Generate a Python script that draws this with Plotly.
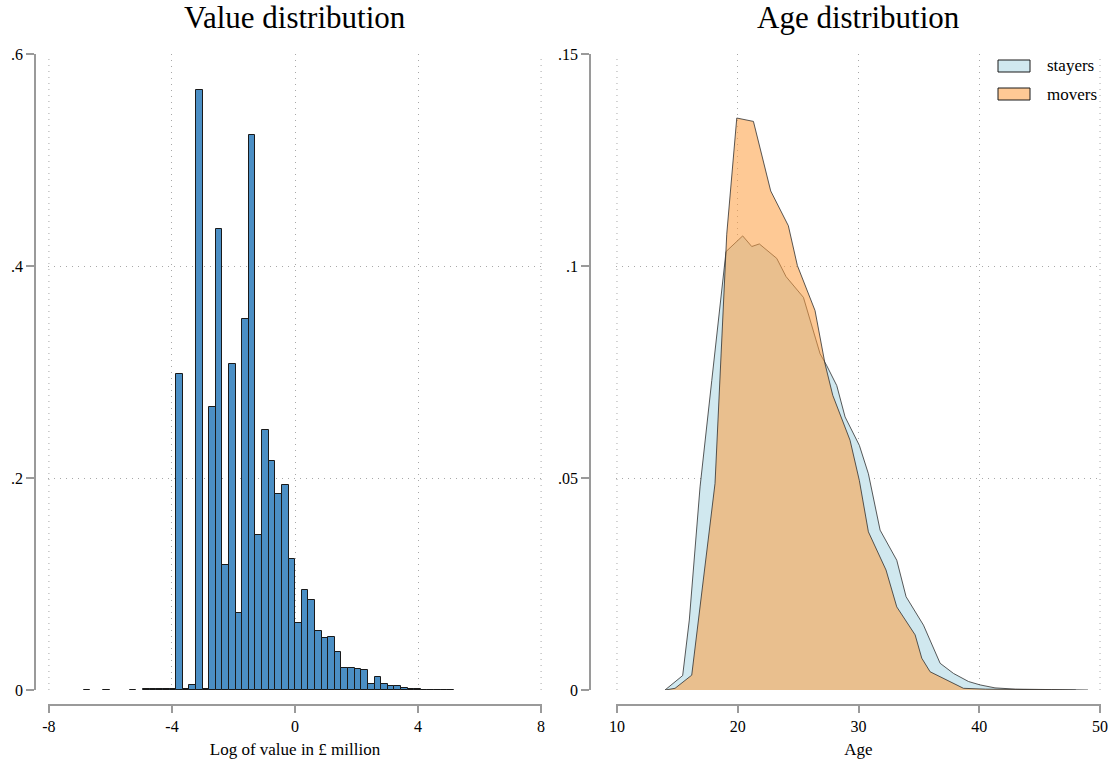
import plotly.graph_objects as go

# ---------------- data ----------------
# Left: histogram of log value (density), bins of equal width
bin_start = -7.09
bin_width = 0.215
value_density = [
    0, 0.0003, 0, 0, 0.0003, 0, 0, 0, 0.0003, 0,
    0.0005, 0.0008, 0.0005, 0.001, 0.001,
    0.298, 0.0006, 0.005, 0.566, 0.0008, 0.267, 0.435, 0.118, 0.308, 0.073,
    0.350, 0.524, 0.1465, 0.245, 0.216, 0.185, 0.193, 0.124, 0.063, 0.094,
    0.085, 0.0556, 0.049, 0.0496, 0.0355, 0.0204, 0.021, 0.0195, 0.0188, 0.0053,
    0.0122, 0.0057, 0.0041, 0.0035, 0.0016, 0.0009, 0.0006, 0.0003, 0.0002, 0.0002,
    0.0001, 0.0001,
]
bin_centers = [bin_start + bin_width * (i + 0.5) for i in range(len(value_density))]

# Right: age density curves
stayers_age = [13.98, 15.44, 15.99, 16.88, 17.85, 19.03, 20.41, 21.16, 21.79, 23.23,
               24.0, 25.44, 26.82, 27.37, 28.2, 28.89, 30.07, 30.82, 31.79, 33.17,
               33.94, 35.38, 36.76, 37.87, 39.11, 40.07, 41.3, 43.0, 46.0, 49.0]
stayers_dens = [0, 0.0034, 0.0165, 0.0479, 0.0730, 0.1034, 0.1071, 0.1046, 0.1052, 0.1018,
                0.0975, 0.0926, 0.0793, 0.0765, 0.0718, 0.0644, 0.0577, 0.0510, 0.0377, 0.0306,
                0.0220, 0.0153, 0.0063, 0.0039, 0.0020, 0.0012, 0.0005, 0.0002, 0.0001, 0]

movers_age = [14.0, 14.81, 16.19, 16.82, 18.12, 19.09, 19.92, 21.30, 22.73, 24.19,
              24.94, 26.40, 27.23, 27.87, 29.30, 30.07, 30.82, 32.28, 33.17, 34.69,
              35.24, 35.93, 37.31, 38.69, 40.5, 44.0, 48.0]
movers_dens = [0, 0.0004, 0.0035, 0.018, 0.0487, 0.1075, 0.1349, 0.1341, 0.1177, 0.1095,
               0.1001, 0.0895, 0.0769, 0.0695, 0.0589, 0.0494, 0.0373, 0.0283, 0.0196, 0.0130,
               0.0075, 0.0043, 0.0024, 0.0004, 0.0002, 0.0001, 0]

left_xticks = [-8, -4, 0, 4, 8]
left_yticks = [0, 0.2, 0.4, 0.6]
left_ytext = ["0", ".2", ".4", ".6"]
right_xticks = [10, 20, 30, 40, 50]
right_yticks = [0, 0.05, 0.1, 0.15]
right_ytext = ["0", ".05", ".1", ".15"]

# ---------------- figure ----------------
W, H = 1115, 764
FONT = "Liberation Serif, Times New Roman, serif"
AXC = "#9a9a9a"
GRIDC = "#a8a8a8"
GRIDDASH = "1px,5px"

def px_x(p):
    return p / W

def px_y(p):
    return (H - p) / H

fig = go.Figure()

# empty bins are not drawn
bar_heights = [v if v > 0 else None for v in value_density]
fig.add_trace(go.Bar(
    x=bin_centers, y=bar_heights, width=bin_width,
    marker=dict(color="#4b8fc5", line=dict(color="#1a1a1a", width=1)),
    xaxis="x", yaxis="y", showlegend=False,
))

fig.add_trace(go.Scatter(
    x=stayers_age, y=stayers_dens, mode="lines", fill="tozeroy",
    fillcolor="#d0e8ef", line=dict(color="#2f2f2f", width=0.8),
    xaxis="x2", yaxis="y2", name="stayers", showlegend=False,
))
fig.add_trace(go.Scatter(
    x=movers_age, y=movers_dens, mode="lines", fill="tozeroy",
    fillcolor="rgba(253,157,62,0.55)", line=dict(color="#2f2f2f", width=0.8),
    xaxis="x2", yaxis="y2", name="movers", showlegend=False,
))

ydom = [px_y(690), px_y(54)]
xaxis_pos = px_y(705)

common_x = dict(
    showline=True, linecolor=AXC, linewidth=1.5,
    ticks="outside", ticklen=7, tickcolor=AXC, tickwidth=1.5,
    showgrid=True, gridcolor=GRIDC, gridwidth=1, griddash=GRIDDASH,
    zeroline=False, anchor="free", position=xaxis_pos, automargin=False,
    tickfont=dict(family=FONT, size=16, color="black"),
    title_font=dict(family=FONT, size=17, color="black"),
    title_standoff=8,
)
common_y = dict(
    showline=True, linecolor=AXC, linewidth=1.5,
    ticks="outside", ticklen=8, tickcolor=AXC, tickwidth=1.5,
    showgrid=True, gridcolor=GRIDC, gridwidth=1, griddash=GRIDDASH,
    zeroline=False, anchor="free", domain=ydom, automargin=False,
    tickfont=dict(family=FONT, size=16, color="black"),
)

fig.update_layout(
    template="none",
    width=W, height=H,
    margin=dict(l=0, r=0, t=0, b=0, autoexpand=False),
    paper_bgcolor="white", plot_bgcolor="white",
    font=dict(family=FONT, color="black"),
    bargap=0,
    xaxis=dict(common_x, domain=[px_x(48), px_x(542)], range=[-8.03, 8.03],
               tickvals=left_xticks, ticktext=[str(v) for v in left_xticks],
               title_text="Log of value in £ million"),
    yaxis=dict(common_y, position=px_x(35), range=[0, 0.6],
               tickvals=left_yticks, ticktext=left_ytext),
    xaxis2=dict(common_x, domain=[px_x(616), px_x(1101)], range=[9.92, 50.08],
                tickvals=right_xticks, ticktext=[str(v) for v in right_xticks],
                title_text="Age"),
    yaxis2=dict(common_y, position=px_x(590), range=[0, 0.15],
                tickvals=right_yticks, ticktext=right_ytext),
    showlegend=False,
)

# dotted grid lines at the outermost x ticks (drawn below the data)
for xr, yr, xt, yt in [("x", "y", left_xticks, left_yticks), ("x2", "y2", right_xticks, right_yticks)]:
    for xv in (xt[0], xt[-1]):
        fig.add_shape(type="line", xref=xr, yref=yr, x0=xv, x1=xv, y0=yt[0], y1=yt[-1],
                      line=dict(color=GRIDC, width=1, dash=GRIDDASH), layer="below")

# panel titles
fig.add_annotation(text="Value distribution", x=px_x(295), y=px_y(18), xref="paper", yref="paper",
                   showarrow=False, xanchor="center", yanchor="middle",
                   font=dict(family=FONT, size=31, color="black"))
fig.add_annotation(text="Age distribution", x=px_x(858), y=px_y(18), xref="paper", yref="paper",
                   showarrow=False, xanchor="center", yanchor="middle",
                   font=dict(family=FONT, size=31, color="black"))

# legend (drawn as keys + labels)
legend_items = [("stayers", "#d0e8ef", 60, 72), ("movers", "#fec995", 88, 100)]
for label, col, top, bot in legend_items:
    fig.add_shape(type="rect", xref="paper", yref="paper",
                  x0=px_x(998), x1=px_x(1030), y0=px_y(bot), y1=px_y(top),
                  fillcolor=col, line=dict(color="#1a1a1a", width=1))
    fig.add_annotation(text=label, x=px_x(1045), y=px_y((top + bot) / 2),
                       xref="paper", yref="paper", showarrow=False,
                       xanchor="left", yanchor="middle",
                       font=dict(family=FONT, size=17, color="black"))

fig.write_html("out.html")
